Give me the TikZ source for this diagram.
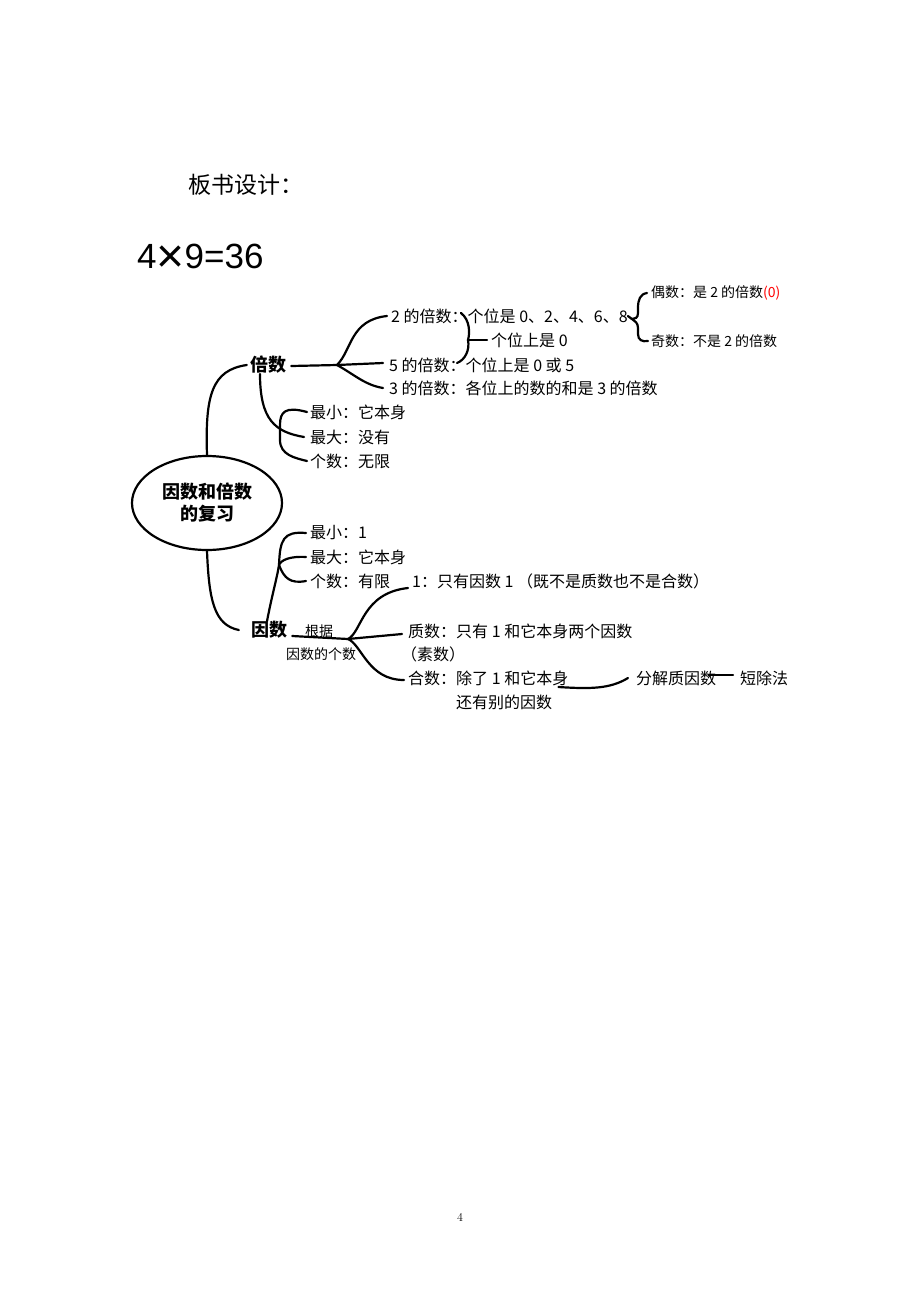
\documentclass[tikz,border=0pt]{standalone}
\usepackage{fontspec}
\newfontfamily\cjk{Noto Sans CJK SC}
\newfontfamily\arialfont{Liberation Sans}
\usetikzlibrary{positioning,shapes.geometric}

\begin{document}
\begin{tikzpicture}[x=1pt,y=-1pt,
  txt/.style={anchor=west,inner sep=0pt,font=\cjk\fontsize{16}{16}\selectfont},
  small/.style={anchor=west,inner sep=0pt,font=\cjk\fontsize{14}{14}\selectfont},
  head/.style={inner sep=0pt,font=\cjk\bfseries\fontsize{18}{18}\selectfont},
  branch/.style={line width=2.2pt,line cap=round}]
  \useasboundingbox (0,0) rectangle (920,1302);

  \node[anchor=west,inner sep=0pt,font=\cjk\fontsize{23}{23}\selectfont] (title) at (188,185) {板书设计：};
  \node[anchor=west,inner sep=0pt,font=\arialfont\fontsize{35}{35}\selectfont] (eq) at (137,258)
    {4{\fontsize{48}{48}\selectfont\raisebox{-4pt}{×}}9=36};

  \node[draw,ellipse,line width=2.2pt,minimum width=150pt,minimum height=94pt,align=center,
    font=\cjk\bfseries\fontsize{18}{22}\selectfont] (root) at (207,503) {因数和倍数\\的复习};
  \node[head] (mult) at (268,365) {倍数};
  \node[head] (fac) at (269,630) {因数};

  \node[txt] (m2) at (391,316) {2 的倍数：个位是 0、2、4、6、8};
  \node[txt] (m2b) at (491,340) {个位上是 0};
  \node[txt] (m5) at (389,365) {5 的倍数：个位上是 0 或 5};
  \node[txt] (m3) at (389,388) {3 的倍数：各位上的数的和是 3 的倍数};
  \node[small] (even) at (651,293) {偶数：是 2 的倍数\textcolor{red}{(0)}};
  \node[small] (odd) at (651,341) {奇数：不是 2 的倍数};
  \node[txt] (mmin) at (310,412) {最小：它本身};
  \node[txt] (mmax) at (310,437) {最大：没有};
  \node[txt] (mcnt) at (310,461) {个数：无限};

  \node[txt] (fmin) at (310,533) {最小：1};
  \node[txt] (fmax) at (310,557) {最大：它本身};
  \node[txt] (fcnt) at (310,581) {个数：有限};
  \node[txt] (one) at (412,581) {1：只有因数 1 （既不是质数也不是合数）};
  \node[txt] (prime) at (408,631) {质数：只有 1 和它本身两个因数};
  \node[txt] (primeb) at (401,654) {（素数）};
  \node[txt] (comp) at (408,678) {合数：除了 1 和它本身};
  \node[txt] (compb) at (456,702) {还有别的因数};
  \node[small] (basis) at (305,631) {根据};
  \node[small] (basisb) at (286,654) {因数的个数};
  \node[txt] (decomp) at (636,678) {分解质因数};
  \node[txt] (shortdiv) at (740,678) {短除法};

  \node[font=\fontsize{12}{12}\selectfont] (pagenum) at (460,1217) {4};

  \coordinate (mj) at (337,365);
  \coordinate (b2) at (461,313);
  \coordinate (bj) at (468,340);
  \coordinate (b5) at (457,363);
  \coordinate (tip) at (632,319);
  \coordinate (fj) at (279,565);
  \coordinate (fk) at (348,639);

  \draw[branch] (root.north) .. controls (205,395) and (212,370) .. ([xshift=-3pt]mult.west);
  \draw[branch] ([xshift=-8pt]mult.south) .. controls (260,420) and (275,432) .. ([xshift=-6pt]mmax.west);
  \draw[branch] ([xshift=-3pt]mmin.west) .. controls (285,406) and (280,412) .. (280,425) -- (280,440)
    .. controls (280,455) and (295,458) .. ([xshift=-3pt]mcnt.west);

  \draw[branch] ([xshift=5pt,yshift=-1pt]mult.east) -- (mj);
  \draw[branch] (mj) .. controls (352,350) and (350,320) .. ([xshift=-4pt]m2.west);
  \draw[branch] (mj) -- ([xshift=-6pt,yshift=2pt]m5.west);
  \draw[branch] (mj) .. controls (355,375) and (365,385) .. ([xshift=-6pt]m3.west);
  \draw[branch] (b2) .. controls (470,320) and (470,333) .. (bj) .. controls (470,350) and (465,360) .. (b5);
  \draw[branch] (bj) -- ([xshift=-4pt]m2b.west);

  \draw[branch] (m2.east) -- (tip);
  \draw[branch] ([xshift=-4pt]even.west) .. controls (640,294) and (638,300) .. (638,308) -- (638,313)
    .. controls (638,318) and (635,319) .. (tip)
    .. controls (635,321) and (638,323) .. (638,328) -- (638,334)
    .. controls (638,340) and (642,342) .. ([xshift=-3pt]odd.west);

  \draw[branch] (root.south) .. controls (209,600) and (214,625) .. ([xshift=-12pt]fac.west);
  \draw[branch] ([xshift=-2pt]fac.north) .. controls (272,595) and (277,578) .. (fj);
  \draw[branch] (fj) .. controls (280,540) and (283,531) .. ([xshift=-4pt]fmin.west);
  \draw[branch] (fj) .. controls (281,560) and (290,556) .. ([xshift=-4pt]fmax.west);
  \draw[branch] (fj) .. controls (284,578) and (290,584) .. ([xshift=-4pt]fcnt.west);

  \draw[branch] ([xshift=5pt,yshift=-6pt]fac.east) -- (fk);
  \draw[branch] (fk) .. controls (362,632) and (362,593) .. ([xshift=-4pt,yshift=-7pt]one.west);
  \draw[branch] (fk) -- ([xshift=-6pt,yshift=-3pt]prime.west);
  \draw[branch] (fk) .. controls (362,645) and (368,680) .. ([xshift=-4pt,yshift=-2pt]comp.west);
  \draw[branch] ([xshift=-10pt,yshift=-9pt]comp.east) .. controls (590,689) and (610,689) .. ([xshift=-8pt]decomp.west);
  \draw[branch] ([xshift=-8pt,yshift=3pt]decomp.east) -- ([xshift=-7pt,yshift=3pt]shortdiv.west);
\end{tikzpicture}
\end{document}
